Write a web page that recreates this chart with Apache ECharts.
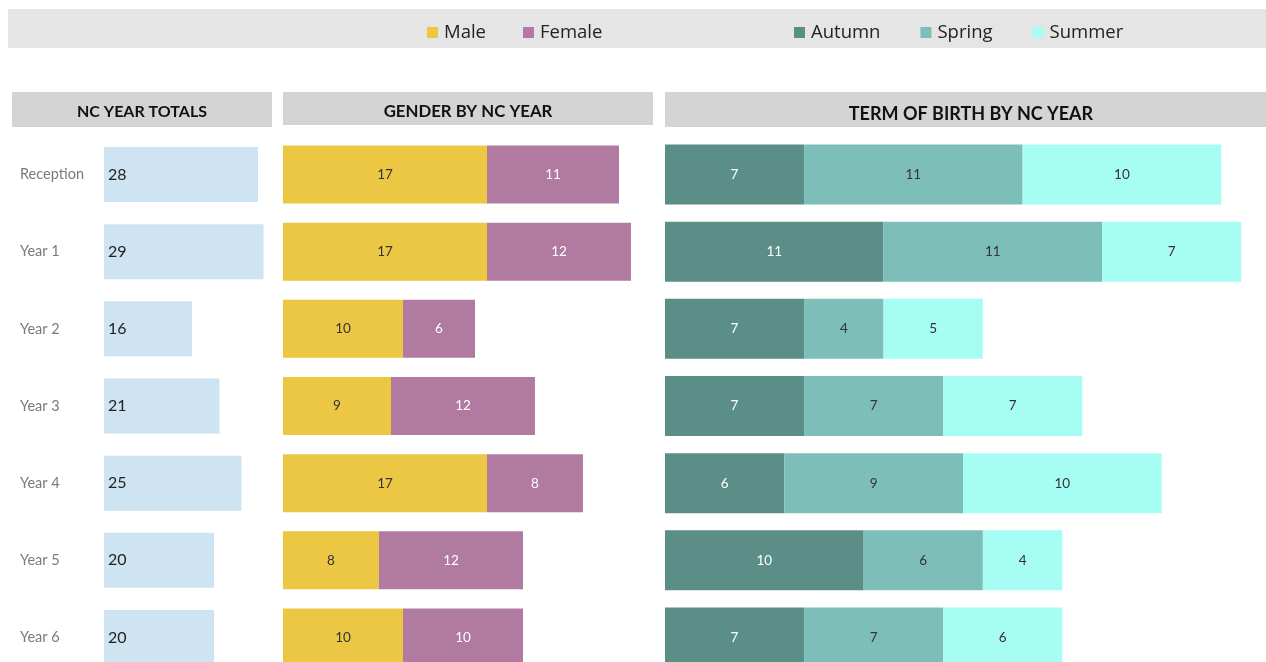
<!DOCTYPE html>
<html>
<head>
<meta charset="utf-8">
<script src="https://cdn.jsdelivr.net/npm/echarts@6/dist/echarts.min.js"></script>
<style>
  html, body { margin: 0; padding: 0; background: #fff; overflow: hidden; }
  #main { width: 1266px; height: 700px; }
</style>
</head>
<body>
<div id="main"></div>
<script>
  // data
  const years = ['Reception', 'Year 1', 'Year 2', 'Year 3', 'Year 4', 'Year 5', 'Year 6'];
  const totals = [28, 29, 16, 21, 25, 20, 20];
  const male = [17, 17, 10, 9, 17, 8, 10];
  const female = [11, 12, 6, 12, 8, 12, 10];
  const autumn = [7, 11, 7, 7, 6, 10, 7];
  const spring = [11, 11, 4, 7, 9, 6, 7];
  const summer = [10, 7, 5, 7, 10, 4, 6];

  const font = 'Lato, "Open Sans", sans-serif';
  const gridTop = 136;
  const gridHeight = 540;

  function catAxis(gridIndex, showLabels) {
    return {
      type: 'category',
      gridIndex: gridIndex,
      data: years,
      inverse: true,
      axisLine: { show: false },
      axisTick: { show: false },
      axisLabel: showLabels ? {
        show: true, align: 'left', margin: 84,
        color: '#7a7a7a', fontSize: 14.5, fontFamily: font
      } : { show: false }
    };
  }

  function valAxis(gridIndex) {
    return {
      type: 'value', gridIndex: gridIndex, min: 0, max: 30,
      show: false, splitLine: { show: false }
    };
  }

  function stackSeries(name, data, idx, stack, color, labelColor, barWidth) {
    return {
      name: name, type: 'bar', stack: stack,
      xAxisIndex: idx, yAxisIndex: idx,
      data: data, barWidth: barWidth,
      itemStyle: { color: color },
      label: {
        show: true, position: 'inside', color: labelColor,
        fontSize: 13.5, fontFamily: font
      }
    };
  }

  const chart = echarts.init(document.getElementById('main'));

  const headerStyle = { fontWeight: 'bold', fontFamily: font, fill: '#111' };
  const legendText = { fontSize: 18.5, color: '#222', fontFamily: '"Open Sans", sans-serif', padding: [0, 0, 0, 1] };

  const option = {
    animation: false,
    graphic: [
      { type: 'rect', shape: { x: 8, y: 9, width: 1258, height: 39 }, style: { fill: '#e5e5e5' }, z: -10 },
      { type: 'rect', shape: { x: 12, y: 92, width: 260, height: 35 }, style: { fill: '#d4d4d4' } },
      { type: 'text', x: 142, y: 112, style: Object.assign({ text: 'NC YEAR TOTALS', align: 'center', verticalAlign: 'middle', fontSize: 16 }, headerStyle) },
      { type: 'rect', shape: { x: 283, y: 92, width: 370, height: 33 }, style: { fill: '#d4d4d4' } },
      { type: 'text', x: 468, y: 112, style: Object.assign({ text: 'GENDER BY NC YEAR', align: 'center', verticalAlign: 'middle', fontSize: 16.8 }, headerStyle) },
      { type: 'rect', shape: { x: 665, y: 92, width: 601, height: 35 }, style: { fill: '#d4d4d4' } },
      { type: 'text', x: 971, y: 114, style: Object.assign({ text: 'TERM OF BIRTH BY NC YEAR', align: 'center', verticalAlign: 'middle', fontSize: 18 }, headerStyle) }
    ],
    legend: [
      {
        data: ['Male', 'Female'], left: 427, top: 23, itemWidth: 11, itemHeight: 11,
        itemGap: 37, icon: 'rect', padding: 0, textStyle: legendText
      },
      {
        data: ['Autumn', 'Spring', 'Summer'], left: 794, top: 23, itemWidth: 11, itemHeight: 11,
        itemGap: 40, icon: 'rect', padding: 0, textStyle: legendText
      }
    ],
    grid: [
      { left: 104, top: gridTop, width: 165, height: gridHeight },
      { left: 283, top: gridTop, width: 360, height: gridHeight },
      { left: 665, top: gridTop, width: 596, height: gridHeight }
    ],
    xAxis: [valAxis(0), valAxis(1), valAxis(2)],
    yAxis: [catAxis(0, true), catAxis(1, false), catAxis(2, false)],
    series: [
      {
        name: 'Total', type: 'bar', xAxisIndex: 0, yAxisIndex: 0,
        data: totals, barWidth: 55,
        itemStyle: { color: '#cfe4f2' },
        label: {
          show: true, position: 'insideLeft', distance: 4, color: '#222',
          fontSize: 16, fontFamily: font
        }
      },
      stackSeries('Male', male, 1, 'gender', '#ebc744', '#333', 58),
      stackSeries('Female', female, 1, 'gender', '#b07aa1', '#fff', 58),
      stackSeries('Autumn', autumn, 2, 'term', '#5b8e87', '#fff', 60),
      stackSeries('Spring', spring, 2, 'term', '#7dbfb8', '#333', 60),
      stackSeries('Summer', summer, 2, 'term', '#a6fdf3', '#333', 60)
    ]
  };

  chart.setOption(option);
</script>
</body>
</html>
